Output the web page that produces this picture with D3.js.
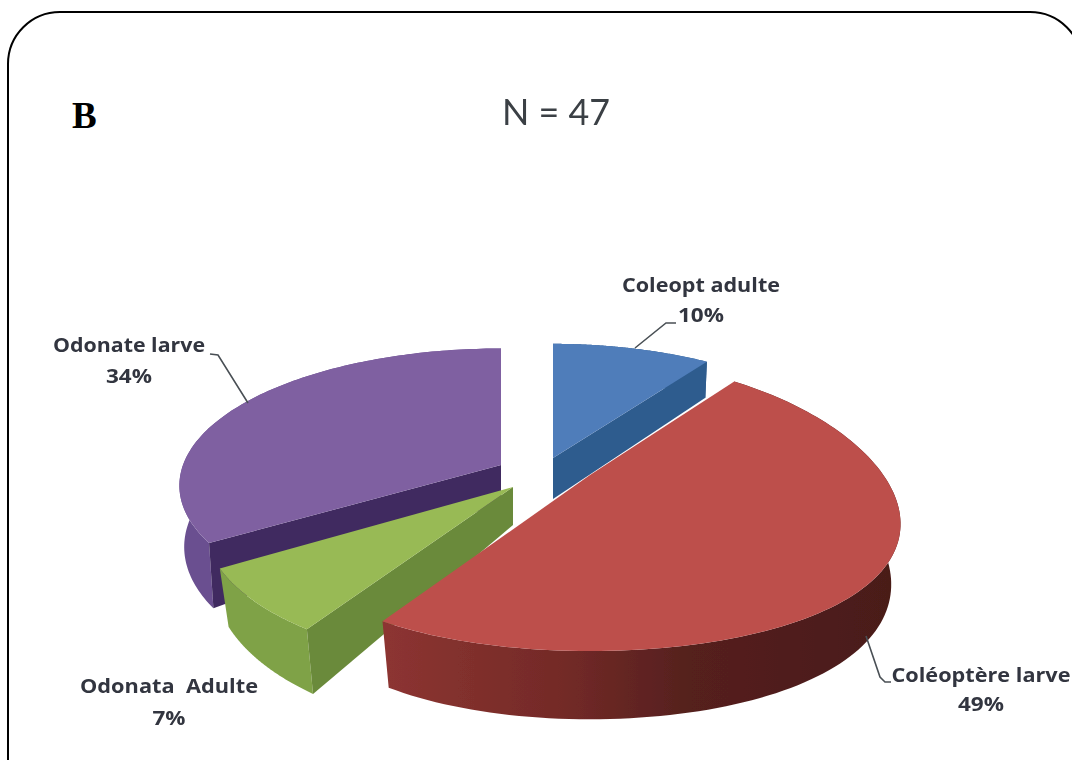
<!DOCTYPE html>
<html>
<head>
<meta charset="utf-8">
<script src="https://cdnjs.cloudflare.com/ajax/libs/d3/7.8.5/d3.min.js"></script>
<style>html,body{margin:0;padding:0;background:#fff}svg{display:block}</style>
</head>
<body>
<svg id="chart" width="1072" height="760"></svg>
<script>
const categories = ["Coleopt adulte", "Coléoptère larve", "Odonata  Adulte", "Odonate larve"];
const values = [10, 49, 7, 34];
const title = "N = 47";
const panel = "B";

// Per-slice perspective ellipse (exploded 3D pie), listed in category order
const centreX = [553, 590, 513, 501];
const centreY = [458, 484, 487, 465];
const apexShiftY = [0, -9, 0, 0];
const radiusX = [319, 299, 297, 318];
const radiusY = [145, 142, 130, 134];
const perspectiveX = [0.27, 0.27, 0.27, 0.15];
const perspectiveY = [0.27, 0.15, 0.27, 0.15];
const rimDepth = [44, 58, 50, 60];
const rimShrink = [0.99, 0.97, 0.97, 0.985];
const apexDepth = [41, 38, 38, 38];
const wallEdge = ["end", null, "start", "start"];
const topColor = ["#4f7dba", "#bd4f4c", "#98ba54", "#7f60a1"];
const wallColor = ["#2f5c8e", "#7f2f2c", "#6b8a3a", "#402b60"];
const rimStops = [
  [["0", "#2f5c8e"], ["1", "#2f5c8e"]],
  [["0", "#8c3431"], ["0.35", "#732a27"], ["0.6", "#55201e"], ["1", "#4a1b19"]],
  [["0", "#7fa246"], ["1", "#7c9c45"]],
  [["0", "#6a4f90"], ["1", "#6a4f90"]]
];
const drawOrder = [0, 3, 2, 1];

const labels = [
  { x: 701, lines: [292, 322], w: [158, 46] },
  { x: 981, lines: [682, 711], w: [179, 46] },
  { x: 169, lines: [693, 725], w: [178, 33] },
  { x: 129, lines: [352, 383], w: [152, 46] }
];
const percent = values.map(v => v + "%");

const leaderLines = [
  [[635, 348], [666, 323], [676, 323]],
  [[866, 636], [880, 677], [885, 682], [891, 682]],
  [],
  [[210, 354], [218, 355], [248, 403]]
];

const svg = d3.select("#chart");
const defs = svg.append("defs");
defs.append("filter").attr("id", "soft").append("feGaussianBlur").attr("stdDeviation", 0.7);
defs.append("filter").attr("id", "softText").append("feGaussianBlur").attr("stdDeviation", 0.6);

svg.append("rect")
  .attr("x", 8).attr("y", 12).attr("width", 1074).attr("height", 800)
  .attr("rx", 52).attr("ry", 52)
  .attr("fill", "#fff").attr("stroke", "#000").attr("stroke-width", 2);

svg.append("text").attr("x", 72).attr("y", 128)
  .attr("font-family", "Liberation Serif").attr("font-weight", "bold")
  .attr("font-size", 37).attr("fill", "#000").text(panel);

svg.append("text").attr("x", 502).attr("y", 125)
  .attr("font-family", "Lato").attr("font-size", 37).attr("fill", "#3a3f44")
  .attr("textLength", 108).attr("lengthAdjust", "spacingAndGlyphs")
  .attr("filter", "url(#softText)").text(title);

const arcs = d3.pie().sort(null).startAngle(0).endAngle(2 * Math.PI)(values);

function project(i, t) {
  const u = Math.sin(t), v = -Math.cos(t);
  const sx = 1 / (1 - perspectiveX[i] * v), sy = 1 / (1 - perspectiveY[i] * v);
  return { x: centreX[i] + radiusX[i] * u * sx, y: centreY[i] + radiusY[i] * v * sy, s: sy };
}
function lower(i, t) {
  const p = project(i, t);
  return { x: centreX[i] + (p.x - centreX[i]) * rimShrink[i], y: p.y + rimDepth[i] * p.s };
}
const line = d3.line().x(d => d.x).y(d => d.y);
const sweep = (a, b) => d3.range(0, 121).map(k => a + (b - a) * k / 120);

rimStops.forEach((stops, i) => {
  const g = defs.append("linearGradient").attr("id", "rim" + i)
    .attr("gradientUnits", "userSpaceOnUse")
    .attr("x1", 388).attr("x2", 890).attr("y1", 0).attr("y2", 0);
  stops.forEach(s => g.append("stop").attr("offset", s[0]).attr("stop-color", s[1]));
});

const pie = svg.append("g").attr("filter", "url(#soft)");
drawOrder.forEach(i => {
  const a = arcs[i], ts = sweep(a.startAngle, a.endAngle);
  const g = pie.append("g");
  const apexTop = { x: centreX[i], y: centreY[i] + apexShiftY[i] };
  const rim = ts.map(t => project(i, t)).concat(ts.slice().reverse().map(t => lower(i, t)));
  g.append("path").attr("d", line(rim) + "Z").attr("fill", `url(#rim${i})`);
  if (wallEdge[i]) {
    const t = wallEdge[i] === "start" ? a.startAngle : a.endAngle;
    const apexLow = { x: apexTop.x, y: apexTop.y + apexDepth[i] };
    g.append("path").attr("d", line([apexTop, project(i, t), lower(i, t), apexLow]) + "Z")
      .attr("fill", wallColor[i]);
  }
  const face = [apexTop].concat(ts.map(t => project(i, t)));
  g.append("path").attr("d", line(face) + "Z").attr("fill", topColor[i]);
});

const leaders = svg.append("g").attr("filter", "url(#softText)");
leaderLines.filter(l => l.length).forEach(l => {
  leaders.append("path").attr("d", d3.line()(l)).attr("fill", "none")
    .attr("stroke", "#4a5055").attr("stroke-width", 1.6);
});

const text = svg.append("g").attr("filter", "url(#softText)")
  .attr("font-family", "Open Sans").attr("font-weight", 700)
  .attr("font-size", 19).attr("fill", "#33363f").attr("text-anchor", "middle");
categories.forEach((c, i) => {
  [c, percent[i]].forEach((str, j) => {
    text.append("text").attr("x", labels[i].x).attr("y", labels[i].lines[j])
      .attr("textLength", labels[i].w[j]).attr("lengthAdjust", "spacingAndGlyphs")
      .style("white-space", "pre").text(str);
  });
});
</script>
</body>
</html>
